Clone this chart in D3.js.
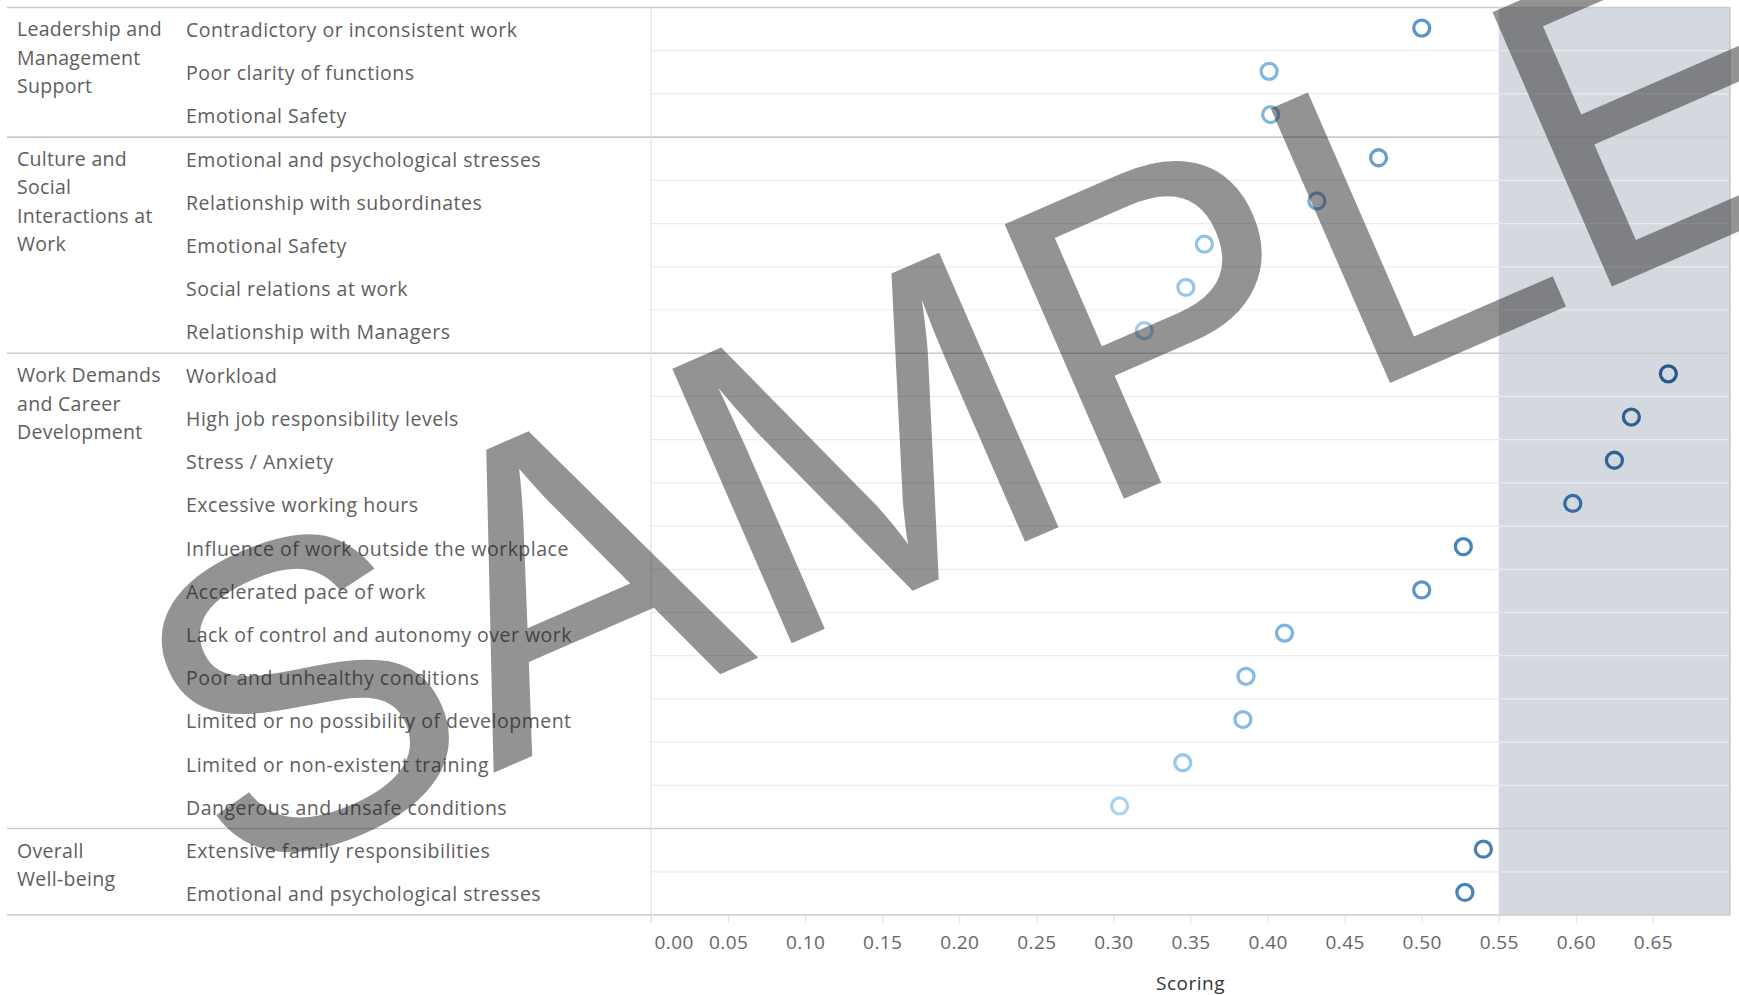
<!DOCTYPE html>
<html>
<head>
<meta charset="utf-8">
<script src="https://cdn.jsdelivr.net/npm/d3@7"></script>
<style>
  body { margin: 0; background: #fff; }
  svg { display: block; font-family: "Open Sans", sans-serif; }
</style>
</head>
<body>
<svg id="chart" width="1739" height="995"></svg>
<script>
// group headers, already split into lines as in the original
const groupLabels = [
  ["Leadership and", "Management", "Support"],
  ["Culture and", "Social", "Interactions at", "Work"],
  ["Work Demands", "and Career", "Development"],
  ["Overall", "Well-being"]
];
const itemGroups = [0, 0, 0, 1, 1, 1, 1, 1, 2, 2, 2, 2, 2, 2, 2, 2, 2, 2, 2, 3, 3];
const itemLabels = [
  "Contradictory or inconsistent work",
  "Poor clarity of functions",
  "Emotional Safety",
  "Emotional and psychological stresses",
  "Relationship with subordinates",
  "Emotional Safety",
  "Social relations at work",
  "Relationship with Managers",
  "Workload",
  "High job responsibility levels",
  "Stress / Anxiety",
  "Excessive working hours",
  "Influence of work outside the workplace",
  "Accelerated pace of work",
  "Lack of control and autonomy over work",
  "Poor and unhealthy conditions",
  "Limited or no possibility of development",
  "Limited or non-existent training",
  "Dangerous and unsafe conditions",
  "Extensive family responsibilities",
  "Emotional and psychological stresses"
];
const scores = [0.500, 0.401, 0.402, 0.472, 0.432, 0.359, 0.347, 0.320,
  0.660, 0.636, 0.625, 0.598, 0.527, 0.500, 0.411, 0.386, 0.384, 0.345, 0.304,
  0.540, 0.528];
const xTicks = [0, 0.05, 0.10, 0.15, 0.20, 0.25, 0.30, 0.35, 0.40, 0.45, 0.50, 0.55, 0.60, 0.65];
const bandRange = [0.55, 0.70];

const svg = d3.select('#chart');
const plotLeft = 651, plotRight = 1730, plotTop = 7.5, plotBottom = 915, headLeft = 7;
const labelColor = '#5e5e5e';

const x = d3.scaleLinear().domain([0, 0.70]).range([plotLeft, plotRight]);
const y = d3.scaleBand().domain(d3.range(itemLabels.length)).range([plotTop, plotBottom]);
const color = d3.scaleLinear()
  .domain([0.30, 0.386, 0.50, 0.527, 0.66])
  .range(['#abd4f1', '#86bbe2', '#5b95c9', '#4a84bc', '#2a5788']);

// reference band
svg.append('rect')
  .attr('x', x(bandRange[0]))
  .attr('y', plotTop)
  .attr('width', x(bandRange[1]) - x(bandRange[0]))
  .attr('height', plotBottom - plotTop)
  .attr('fill', '#d4d9e0');

// light row lines inside groups
const rowBreaks = d3.range(1, itemLabels.length).filter(i => itemGroups[i] === itemGroups[i - 1]);
svg.append('g').selectAll('line')
  .data(rowBreaks)
  .enter().append('line')
  .attr('x1', plotLeft).attr('x2', plotRight)
  .attr('y1', d => y(d)).attr('y2', d => y(d))
  .attr('stroke', '#ebebeb')
  .attr('stroke-width', 1.2);

// group separators
const groupBreaks = d3.range(1, itemLabels.length).filter(i => itemGroups[i] !== itemGroups[i - 1]);
svg.append('g').selectAll('line')
  .data([0].concat(groupBreaks).concat([itemLabels.length]))
  .enter().append('line')
  .attr('x1', headLeft).attr('x2', plotRight)
  .attr('y1', d => d === itemLabels.length ? plotBottom : y(d))
  .attr('y2', d => d === itemLabels.length ? plotBottom : y(d))
  .attr('stroke', '#cbcbcb')
  .attr('stroke-width', 1.6);

// pane borders
svg.append('line')
  .attr('x1', plotLeft).attr('x2', plotLeft)
  .attr('y1', plotTop).attr('y2', plotBottom + 8)
  .attr('stroke', '#d9d9d9');
svg.append('line')
  .attr('x1', plotRight).attr('x2', plotRight)
  .attr('y1', plotTop).attr('y2', plotBottom)
  .attr('stroke', '#c8c8c8')
  .attr('stroke-width', 1.5);

// header text
const firstRow = itemGroups.map((g, i) => i).filter(i => i === 0 || itemGroups[i] !== itemGroups[i - 1]);
groupLabels.forEach((lines, g) => {
  svg.append('text')
    .attr('x', 17)
    .attr('y', y(firstRow[g]) + y.bandwidth() / 2 + 0.5)
    .attr('fill', labelColor)
    .attr('font-size', 19.5)
    .attr('letter-spacing', 0.3)
    .selectAll('tspan')
    .data(lines)
    .enter().append('tspan')
    .attr('x', 17)
    .attr('dy', (d, i) => i === 0 ? '0.35em' : 28.4)
    .text(d => d);
});

svg.append('g').selectAll('text')
  .data(itemLabels)
  .enter().append('text')
  .attr('x', 186)
  .attr('y', (d, i) => y(i) + y.bandwidth() / 2 + 1)
  .attr('dy', '0.35em')
  .attr('fill', labelColor)
  .attr('font-size', 19.5)
  .attr('letter-spacing', 0.5)
  .text(d => d);

// x axis
const xAxis = d3.axisBottom(x)
  .tickValues(xTicks)
  .tickFormat(d3.format('.2f'))
  .tickSize(8)
  .tickPadding(13);
const ax = svg.append('g')
  .attr('transform', 'translate(0,' + plotBottom + ')')
  .call(xAxis);
ax.select('.domain').remove();
ax.selectAll('line').attr('stroke', '#e0e0e0');
ax.selectAll('text')
  .attr('fill', '#666')
  .attr('font-size', 19)
  .attr('letter-spacing', 0.4)
  .attr('font-family', '"Open Sans", sans-serif');
ax.selectAll('.tick').filter(d => d === 0).select('text')
  .attr('text-anchor', 'start')
  .attr('x', 3);

svg.append('text')
  .attr('x', (plotLeft + plotRight) / 2)
  .attr('y', 990)
  .attr('text-anchor', 'middle')
  .attr('fill', '#333')
  .attr('font-size', 19)
  .attr('letter-spacing', 0.5)
  .text('Scoring');

// dots
svg.append('g').selectAll('circle')
  .data(scores)
  .enter().append('circle')
  .attr('cx', d => x(d))
  .attr('cy', (d, i) => y(i) + y.bandwidth() / 2 - 1)
  .attr('r', 8)
  .attr('fill', 'none')
  .attr('stroke', d => color(d))
  .attr('stroke-width', 3.3);

// watermark
svg.append('text')
  .attr('transform', 'translate(1036,537) rotate(-23.5)')
  .attr('text-anchor', 'middle')
  .attr('font-family', '"Liberation Sans", Arial, sans-serif')
  .attr('font-size', 435)
  .attr('fill', '#2a2a2a')
  .attr('opacity', 0.5)
  .text('SAMPLE');
</script>
</body>
</html>
